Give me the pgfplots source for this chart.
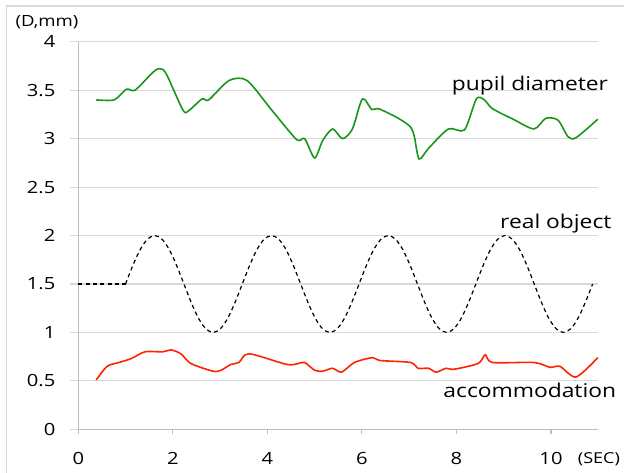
\documentclass[border=0pt]{standalone}
\usepackage{fontspec}
\setmainfont{Open Sans}[FakeStretch=1.2]
\usepackage{pgfplots}
\pgfplotsset{compat=1.18}
\definecolor{pgreen}{RGB}{25,150,25}
\definecolor{ared}{RGB}{255,35,0}
\definecolor{gridc}{RGB}{217,217,217}
\definecolor{axisc}{RGB}{190,190,190}
\begin{document}
\begin{tikzpicture}
\begin{axis}[
  at={(0,0)}, anchor=south west,
  scale only axis,
  width=390pt, height=290.7pt,
  xmin=0, xmax=11, ymin=0, ymax=4,
  axis x line*=bottom, axis y line*=left,
  axis line style={axisc, line width=0.8pt},
  xtick={0,2,4,6,8,10},
  ytick={0,0.5,1,1.5,2,2.5,3,3.5,4},
  yticklabels={0,0.5,1,1.5,2,2.5,3,3.5,4},
  ymajorgrids, grid style={gridc, line width=0.8pt},
  tick align=outside,
  major tick length=6pt,
  xtick style={axisc, line width=0.8pt, /pgfplots/major tick length=3.75pt},
  ytick style={gridc, line width=0.8pt},
  /pgf/number format/assume math mode=true,
  tick label style={font=\fontsize{12.6pt}{14pt}\selectfont, text=black},
  yticklabel style={anchor=east, inner sep=0pt, xshift=-11pt},
  xticklabel style={anchor=north, inner sep=0pt, yshift=-11pt},
  clip=false,
]
% pupil diameter
\addplot[pgreen, line width=1.2pt, smooth, tension=0.45] coordinates {
(0.38,3.40) (0.76,3.40) (1.02,3.51) (1.20,3.50) (1.55,3.67) (1.68,3.72) (1.80,3.71) (1.90,3.63)
(2.22,3.29) (2.34,3.29) (2.62,3.41) (2.76,3.40) (3.19,3.60) (3.57,3.60)
(4.10,3.29) (4.62,2.99) (4.79,3.00) (5.00,2.80) (5.17,2.98) (5.38,3.10)
(5.59,3.00) (5.80,3.10) (6.01,3.41) (6.21,3.30) (6.35,3.31) (6.77,3.21)
(7.03,3.12) (7.11,3.02) (7.21,2.79) (7.41,2.90) (7.83,3.10) (8.17,3.09)
(8.42,3.41) (8.59,3.40) (8.76,3.31) (9.20,3.20) (9.64,3.10) (9.89,3.21)
(10.15,3.19) (10.36,3.02) (10.53,3.01) (10.99,3.20)
};
% real object
\addplot[black, line width=0.9pt, dash pattern=on 3pt off 2.5pt] coordinates {
(0,1.5) (1.0,1.5)
};
\addplot[black, line width=0.9pt, dash pattern=on 3pt off 2.5pt, smooth] coordinates {
(1.0000,1.5) (1.1544,1.691) (1.3088,1.854) (1.4631,1.962) (1.6175,2.0) (1.7719,1.962) (1.9263,1.854) (2.0806,1.691)
(2.2350,1.5) (2.3894,1.309) (2.5438,1.146) (2.6981,1.038) (2.8525,1.0) (3.0069,1.038) (3.1613,1.146) (3.3156,1.309)
(3.4700,1.5) (3.6244,1.691) (3.7788,1.854) (3.9331,1.962) (4.0875,2.0) (4.2419,1.962) (4.3963,1.854) (4.5506,1.691)
(4.7050,1.5) (4.8594,1.309) (5.0138,1.146) (5.1681,1.038) (5.3225,1.0) (5.4769,1.038) (5.6313,1.146) (5.7856,1.309)
(5.9400,1.5) (6.0944,1.691) (6.2488,1.854) (6.4031,1.962) (6.5575,2.0) (6.7119,1.962) (6.8663,1.854) (7.0206,1.691)
(7.1750,1.5) (7.3294,1.309) (7.4838,1.146) (7.6381,1.038) (7.7925,1.0) (7.9469,1.038) (8.1013,1.146) (8.2556,1.309)
(8.4100,1.5) (8.5644,1.691) (8.7188,1.854) (8.8731,1.962) (9.0275,2.0) (9.1819,1.962) (9.3363,1.854) (9.4906,1.691)
(9.6450,1.5) (9.7994,1.309) (9.9538,1.146) (10.1081,1.038) (10.2625,1.0) (10.4169,1.038) (10.5713,1.146) (10.7256,1.309)
(10.8800,1.5)
};
% accommodation
\addplot[ared, line width=1.2pt, smooth, tension=0.45] coordinates {
(0.38,0.51) (0.61,0.65) (0.86,0.69) (1.12,0.73) (1.41,0.80) (1.79,0.80)
(1.96,0.82) (2.17,0.78) (2.38,0.68) (2.85,0.60) (3.02,0.61) (3.23,0.67)
(3.40,0.69) (3.61,0.78) (4.41,0.67) (4.66,0.68) (4.79,0.69) (5.00,0.61)
(5.17,0.60) (5.38,0.63) (5.57,0.59) (5.84,0.69) (6.22,0.74) (6.39,0.71)
(7.03,0.69) (7.19,0.63) (7.41,0.63) (7.57,0.59) (7.78,0.63) (7.95,0.62)
(8.46,0.68) (8.61,0.77) (8.76,0.69) (9.64,0.69) (9.98,0.64) (10.19,0.65)
(10.53,0.54) (10.99,0.74)
};
\node[anchor=base west, inner sep=0pt, font=\fontsize{14.25pt}{16pt}\selectfont] at (axis cs:7.9,3.5) {pupil diameter};
\node[anchor=base west, inner sep=0pt, font=\fontsize{14.25pt}{16pt}\selectfont] at (axis cs:8.92,2.07) {real object};
\node[anchor=base west, inner sep=0pt, font=\fontsize{14.25pt}{16pt}\selectfont] at (axis cs:7.72,0.33) {accommodation};
\end{axis}
\draw[gridc, line width=0.8pt] (-53.5pt,-40pt) -- (-53.5pt,317.5pt) -- (420pt,317.5pt);
\node[font=\fontsize{11.6pt}{13pt}\selectfont, inner sep=0pt] at (-23.5pt,305.5pt) {(D,mm)};
\node[font=\fontsize{11.3pt}{13pt}\selectfont, inner sep=0pt] at (390.5pt,-22.3pt) {(SEC)};
\pgfresetboundingbox
\path[use as bounding box] (-58.7pt,-32.0pt) rectangle (409.3pt,322pt);
\end{tikzpicture}
\end{document}
